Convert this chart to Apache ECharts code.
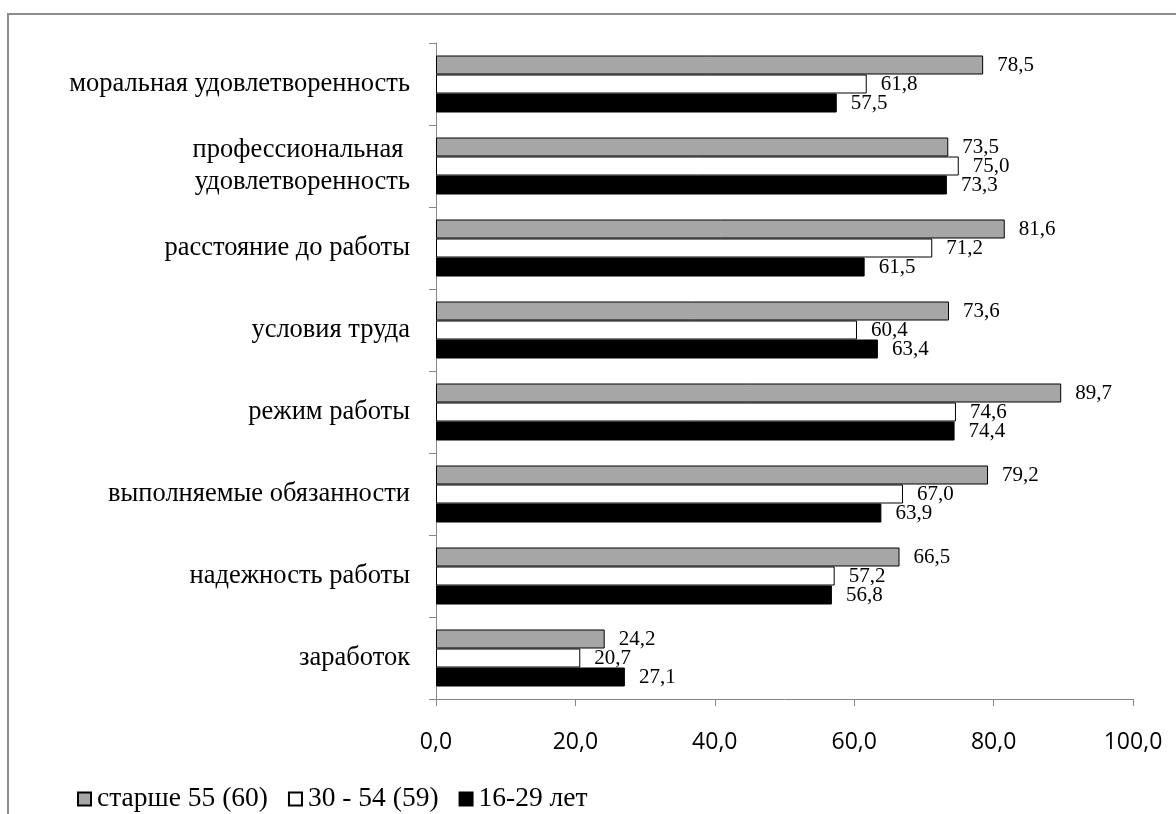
<!DOCTYPE html>
<html>
<head>
<meta charset="utf-8">
<script src="https://cdn.jsdelivr.net/npm/echarts@6/dist/echarts.min.js"></script>
<style>
html,body{margin:0;padding:0;background:#fff;}
#chart{width:1176px;height:814px;}
</style>
</head>
<body>
<div id="chart"></div>
<script>
const categories = [
  'моральная удовлетворенность',
  'профессиональная \nудовлетворенность',
  'расстояние до работы',
  'условия труда',
  'режим работы',
  'выполняемые обязанности',
  'надежность работы',
  'заработок'
];
const seriesNames = ['старше 55 (60)', '30 - 54 (59)', '16-29 лет'];
const older = [78.5, 73.5, 81.6, 73.6, 89.7, 79.2, 66.5, 24.2];
const middle = [61.8, 75.0, 71.2, 60.4, 74.6, 67.0, 57.2, 20.7];
const young = [57.5, 73.3, 61.5, 63.4, 74.4, 63.9, 56.8, 27.1];
const xTicks = [0, 20, 40, 60, 80, 100];

const fmt = v => Number(v).toFixed(1).replace('.', ',');
const colors = ['#a6a6a6', '#ffffff', '#000000'];
const values = [older, middle, young];

const chart = echarts.init(document.getElementById('chart'), null, {renderer: 'canvas'});
chart.setOption({
  animation: false,
  backgroundColor: '#fff',
  graphic: [{
    type: 'rect',
    shape: {x: 8, y: 14, width: 2000, height: 2000},
    style: {fill: 'none', stroke: '#8c8c8c', lineWidth: 2},
    silent: true,
    z: -1
  }],
  grid: {left: 436, right: 43, top: 43, bottom: 115, containLabel: false, outerBoundsMode: 'none'},
  legend: {
    left: 72, top: 780,
    itemWidth: 13, itemHeight: 13, itemGap: 20,
    icon: 'rect',
    textStyle: {fontFamily: 'Liberation Serif', fontSize: 27.5, color: '#000', padding: [0, 0, 0, 1]},
    data: seriesNames
  },
  xAxis: {
    type: 'value', min: xTicks[0], max: xTicks[xTicks.length - 1], interval: 20,
    axisLine: {show: true, lineStyle: {color: '#868686', width: 1}},
    axisTick: {show: true, length: 7, lineStyle: {color: '#868686'}},
    splitLine: {show: false},
    axisLabel: {fontFamily: 'Open Sans', fontSize: 23, color: '#000', margin: 32, formatter: fmt}
  },
  yAxis: {
    type: 'category', data: categories, inverse: true,
    axisLine: {show: true, lineStyle: {color: '#868686', width: 1}},
    axisTick: {show: true, length: 7, lineStyle: {color: '#868686'}},
    axisLabel: {fontFamily: 'Liberation Serif', fontSize: 26.5, color: '#000', margin: 26, lineHeight: 32, align: 'right'}
  },
  series: seriesNames.map((name, i) => ({
    name: name,
    type: 'bar',
    data: values[i],
    barWidth: 19,
    barGap: '0%',
    itemStyle: {color: colors[i], borderColor: '#000', borderWidth: 1},
    label: {
      show: true, position: 'right', distance: 14,
      fontFamily: 'Liberation Serif', fontSize: 21, color: '#000',
      formatter: p => fmt(p.value)
    }
  }))
});
</script>
</body>
</html>
